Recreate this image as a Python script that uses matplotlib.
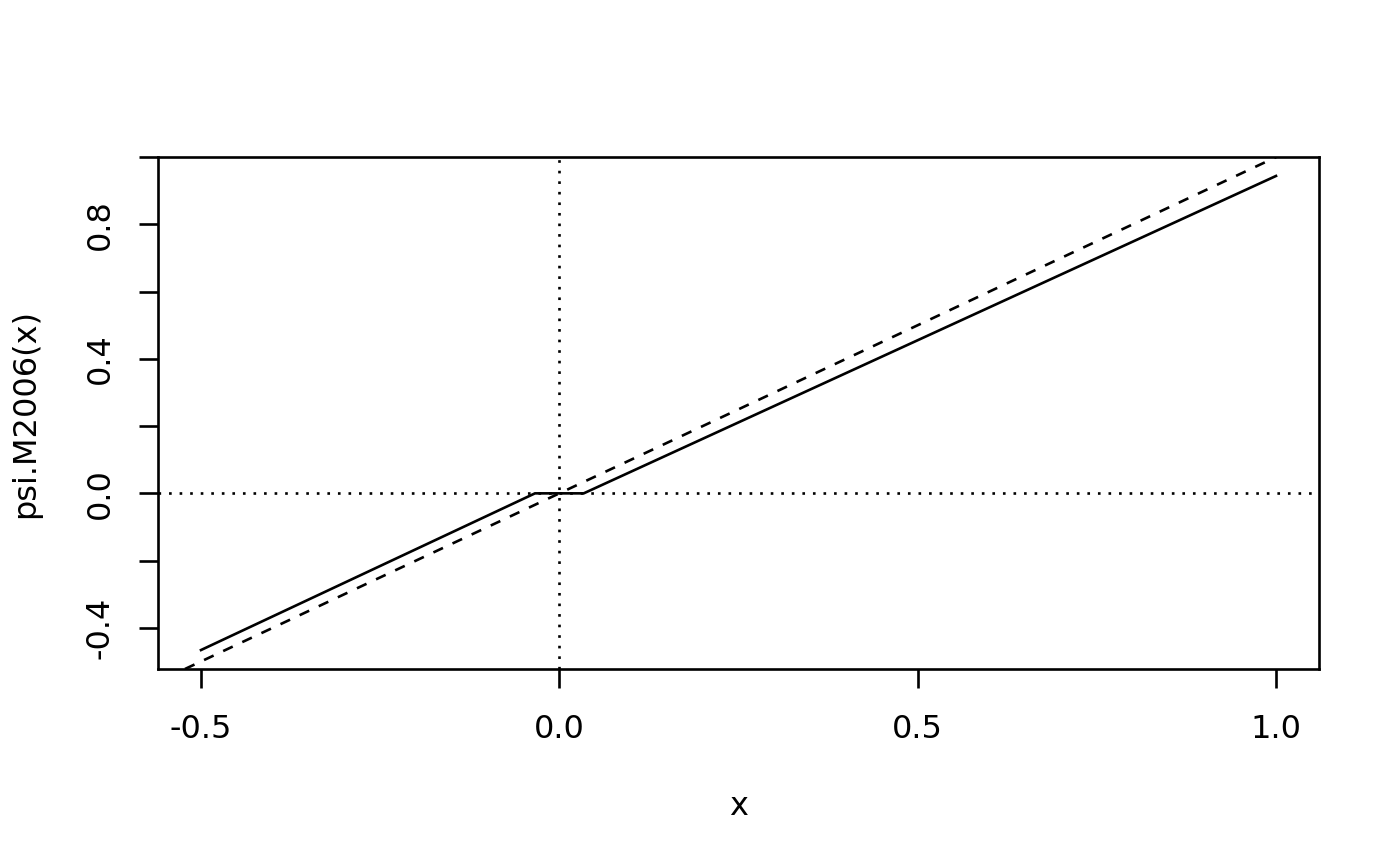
import matplotlib
matplotlib.use("Agg")
import matplotlib.pyplot as plt
import numpy as np

# psi.M2006(x): flat near zero, linear outside
x_pts   = [-0.5, -0.034, 0.034, 1.0]
psi_pts = [-0.466, 0.0, 0.0, 0.944]

x_ticks = [-0.5, 0.0, 0.5, 1.0]
x_tick_labels = ["-0.5", "0.0", "0.5", "1.0"]
y_ticks = [-0.4, -0.2, 0.0, 0.2, 0.4, 0.6, 0.8, 1.0]
y_tick_labels = ["-0.4", "", "0.0", "", "0.4", "", "0.8", ""]

plt.rcParams["font.family"] = ["DejaVu Sans"]
lw = 1.9
fs = 23

fig = plt.figure(figsize=(14, 8.66), dpi=100)
ax = fig.add_axes([158 / 1400, 1 - 669 / 866, (1319 - 158) / 1400, (669 - 157) / 866])

ax.plot(x_pts, psi_pts, color="black", linewidth=lw, solid_joinstyle="miter")
ax.axline((0, 0), slope=1, color="black", linewidth=lw, linestyle=(0, (4, 4)))
ax.axhline(0, color="black", linewidth=lw, linestyle=(0, (1, 3)))
ax.axvline(0, color="black", linewidth=lw, linestyle=(0, (1, 3)))

rng = max(psi_pts) - min(psi_pts)
ax.set_xlim(-0.5 - 0.06, 1.0 + 0.06)
ax.set_ylim(min(psi_pts) - 0.04 * rng, max(psi_pts) + 0.04 * rng)

ax.set_xticks(x_ticks)
ax.set_xticklabels(x_tick_labels)
ax.set_yticks(y_ticks)
ax.set_yticklabels(y_tick_labels, rotation=90, va="center")
ax.tick_params(axis="both", direction="out", length=13.5, width=lw, labelsize=fs, color="black")
ax.tick_params(axis="x", pad=19)
ax.tick_params(axis="y", pad=17)

for s in ax.spines.values():
    s.set_linewidth(lw)

ax.set_xlabel("x", fontsize=fs, labelpad=33)
ax.set_ylabel("psi.M2006(x)", fontsize=fs, labelpad=31)

fig.savefig("out.png", dpi=100)
